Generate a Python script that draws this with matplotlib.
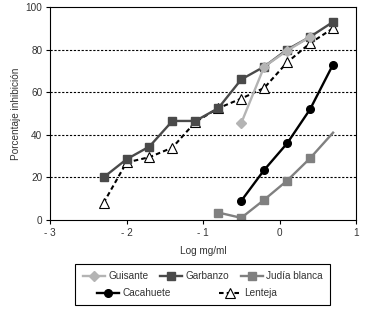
import matplotlib
matplotlib.use("Agg")
import matplotlib.pyplot as plt
from matplotlib.lines import Line2D
from matplotlib.patches import Rectangle

plt.rcParams['font.family'] = ['Liberation Sans', 'DejaVu Sans']

x_all = [-2.3, -2.0, -1.7, -1.4, -1.1, -0.8, -0.5, -0.2, 0.1, 0.4, 0.7]
garbanzo = [20, 28.5, 34.5, 46.5, 46.5, 52.5, 66, 72, 80, 86, 93]
lenteja = [8, 27, 29.5, 34, 46, 52.5, 57, 62, 74, 83, 90]
x_guisante = [-0.5, -0.2, 0.1, 0.4]
guisante = [45.5, 72, 79.5, 86]
x_cacahuete = [-0.5, -0.2, 0.1, 0.4, 0.7]
cacahuete = [9, 23.5, 36, 52, 73]
x_judia = [-0.8, -0.5, -0.2, 0.1, 0.4, 0.7]
judia = [3.5, 1, 9.5, 18.5, 29, 41]

xticks = [-3, -2, -1, 0, 1]
xticklabels = ['- 3', '- 2', '- 1', '0', '1']
yticks = [0, 20, 40, 60, 80, 100]

fig = plt.figure(figsize=(3.71, 3.11), dpi=100)
ax = fig.add_axes([50/371, 1-220/311, 306/371, 213/311])

c_gui = '#b4b4b4'
c_gar = '#4a4a4a'
c_jud = '#808080'
fs = 7.2
tc = '#333333'

for y in [20, 40, 60, 80]:
    ax.axhline(y, color='black', lw=0.8, ls=(0, (2, 1.5)), zorder=0)

ax.plot(x_judia, judia, color=c_jud, lw=1.7, marker='s', ms=5.5, markevery=[0, 1, 2, 3, 4], zorder=2)
ax.plot(x_cacahuete, cacahuete, color='black', lw=1.7, marker='o', ms=5.5, zorder=3)
ax.plot(x_all, lenteja, color='black', lw=1.5, ls=(0, (2.2, 1.5)), marker='^', ms=7.5,
        mfc='white', mec='black', mew=0.8, zorder=3)
ax.plot(x_all, garbanzo, color=c_gar, lw=1.7, marker='s', ms=5.5, zorder=4)
ax.plot(x_guisante, guisante, color=c_gui, lw=1.7, marker='D', ms=5.5, zorder=5)

ax.set_xlim(-3, 1)
ax.set_ylim(0, 100)
ax.set_xticks(xticks)
ax.set_xticklabels(xticklabels)
ax.set_yticks(yticks)
ax.tick_params(labelsize=fs, length=3, width=0.8, colors='black', labelcolor=tc, pad=2.5)
for s in ax.spines.values():
    s.set_linewidth(0.8)
ax.set_xlabel('Log mg/ml', fontsize=fs, color=tc, labelpad=6)
ax.set_ylabel('Porcentaje inhibición', fontsize=fs, color=tc, labelpad=3)

# legend
h_gui = Line2D([], [], color=c_gui, lw=1.7, marker='D', ms=5.5)
h_gar = Line2D([], [], color=c_gar, lw=1.7, marker='s', ms=5.5)
h_jud = Line2D([], [], color=c_jud, lw=1.7, marker='s', ms=5.5)
h_cac = Line2D([], [], color='black', lw=1.7, marker='o', ms=5.5)
h_len = Line2D([], [], color='black', lw=1.5, ls=(0, (2.2, 1.5)), marker='^', ms=7.5, mfc='white', mec='black', mew=0.8)

leg1 = fig.legend([h_gui, h_gar, h_jud], ['Guisante', 'Garbanzo', 'Judía blanca'], ncol=3,
                  loc='center', bbox_to_anchor=(203/371, 1-276/311), frameon=False, fontsize=fs,
                  handlelength=2.2, handletextpad=0.3, columnspacing=1.2, borderpad=0)
leg2 = fig.legend([h_cac, h_len], ['Cacahuete', 'Lenteja'], ncol=2,
                  loc='center', bbox_to_anchor=(187/371, 1-293/311), frameon=False, fontsize=fs,
                  handlelength=2.2, handletextpad=0.3, columnspacing=4.8, borderpad=0)
for lg in (leg1, leg2):
    for t in lg.get_texts():
        t.set_color(tc)
fig.patches.append(Rectangle((75/371, 1-305/311), 255/371, 41/311, transform=fig.transFigure,
                             fill=False, edgecolor='black', lw=0.8))

fig.savefig('out.png', dpi=100)
